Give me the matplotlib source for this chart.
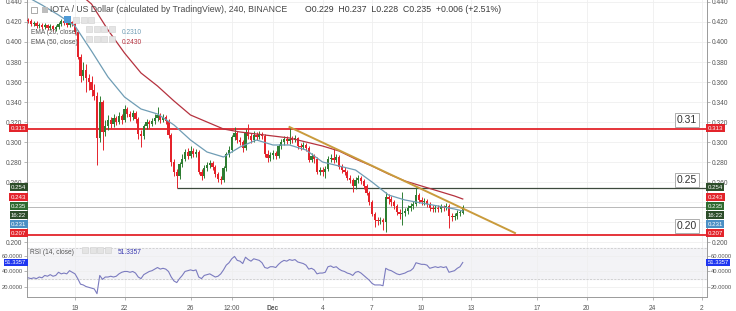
import matplotlib
matplotlib.use("Agg")
import matplotlib.pyplot as plt
import matplotlib.dates as mdates
from matplotlib.patches import Rectangle
import numpy as np
import pandas as pd

plt.rcParams['font.family'] = ['Liberation Sans', 'DejaVu Sans']

# 4h candles IOTA/USD, Nov 16 04:00 -> Dec 12 12:00 (open = previous close)
first_open = 0.422
close = [
    0.421, 0.418, 0.419, 0.416, 0.417,
    0.415, 0.417, 0.414, 0.416, 0.413, 0.415,
    0.418, 0.421, 0.419, 0.417, 0.420, 0.418,
    0.410, 0.385, 0.366, 0.372, 0.364, 0.360,
    0.352, 0.346, 0.304, 0.340, 0.310, 0.316,
    0.322, 0.318, 0.324, 0.320, 0.326, 0.322,
    0.333, 0.328, 0.325, 0.329, 0.323, 0.308,
    0.306, 0.316, 0.320, 0.318, 0.321, 0.324,
    0.327, 0.322, 0.325, 0.321, 0.307, 0.280,
    0.270, 0.266, 0.278, 0.283, 0.290, 0.286,
    0.291, 0.288, 0.290, 0.270, 0.266, 0.274,
    0.277, 0.279, 0.275, 0.268, 0.263, 0.262,
    0.274, 0.288, 0.292, 0.305, 0.309, 0.302,
    0.300, 0.294, 0.310, 0.306, 0.302, 0.307,
    0.305, 0.308, 0.306, 0.288, 0.284, 0.287,
    0.289, 0.286, 0.296, 0.300, 0.303, 0.301,
    0.303, 0.302, 0.304, 0.296, 0.295, 0.297,
    0.294, 0.282, 0.286, 0.283, 0.270, 0.272,
    0.270, 0.273, 0.283, 0.284, 0.282, 0.285,
    0.275, 0.272, 0.270, 0.264, 0.262, 0.256,
    0.262, 0.264, 0.261, 0.256, 0.249, 0.240,
    0.228, 0.222, 0.221, 0.222, 0.220, 0.245,
    0.243, 0.240, 0.236, 0.230, 0.228, 0.229,
    0.231, 0.234, 0.236, 0.238, 0.247, 0.242,
    0.240, 0.241, 0.238, 0.234, 0.233, 0.234,
    0.233, 0.235, 0.234, 0.236, 0.226, 0.225,
    0.226, 0.229, 0.229, 0.235,
]
high = [
    0.424, 0.423, 0.421, 0.421, 0.419,
    0.419, 0.419, 0.418, 0.418, 0.417, 0.417,
    0.420, 0.423, 0.422, 0.420, 0.422, 0.421,
    0.420, 0.412, 0.388, 0.380, 0.378, 0.368,
    0.366, 0.358, 0.350, 0.346, 0.342, 0.322,
    0.327, 0.325, 0.328, 0.326, 0.330, 0.328,
    0.337, 0.335, 0.331, 0.332, 0.331, 0.325,
    0.312, 0.318, 0.323, 0.322, 0.324, 0.328,
    0.335, 0.329, 0.328, 0.327, 0.323, 0.309,
    0.283, 0.273, 0.280, 0.288, 0.293, 0.294,
    0.296, 0.294, 0.293, 0.292, 0.273, 0.277,
    0.280, 0.282, 0.281, 0.277, 0.270, 0.266,
    0.276, 0.290, 0.296, 0.307, 0.315, 0.311,
    0.305, 0.302, 0.313, 0.318, 0.309, 0.311,
    0.310, 0.311, 0.310, 0.308, 0.292, 0.290,
    0.292, 0.291, 0.298, 0.303, 0.306, 0.306,
    0.315, 0.306, 0.307, 0.305, 0.299, 0.300,
    0.299, 0.296, 0.289, 0.288, 0.285, 0.275,
    0.275, 0.276, 0.286, 0.288, 0.294, 0.288,
    0.287, 0.278, 0.275, 0.272, 0.267, 0.264,
    0.265, 0.267, 0.266, 0.263, 0.258, 0.251,
    0.242, 0.230, 0.225, 0.225, 0.224, 0.250,
    0.248, 0.246, 0.242, 0.238, 0.233, 0.250,
    0.234, 0.237, 0.239, 0.241, 0.255, 0.249,
    0.245, 0.244, 0.243, 0.240, 0.237, 0.237,
    0.237, 0.238, 0.237, 0.239, 0.238, 0.229,
    0.229, 0.232, 0.232, 0.237,
]
low = [
    0.419, 0.416, 0.416, 0.414, 0.414,
    0.413, 0.413, 0.412, 0.412, 0.411, 0.411,
    0.413, 0.416, 0.417, 0.415, 0.415, 0.416,
    0.408, 0.383, 0.360, 0.362, 0.350, 0.352,
    0.346, 0.342, 0.277, 0.300, 0.292, 0.306,
    0.312, 0.314, 0.315, 0.317, 0.318, 0.318,
    0.320, 0.325, 0.321, 0.322, 0.319, 0.303,
    0.295, 0.303, 0.313, 0.314, 0.316, 0.318,
    0.321, 0.319, 0.320, 0.318, 0.304, 0.276,
    0.266, 0.254, 0.263, 0.275, 0.281, 0.283,
    0.284, 0.285, 0.285, 0.268, 0.262, 0.264,
    0.271, 0.274, 0.272, 0.265, 0.260, 0.258,
    0.260, 0.271, 0.285, 0.290, 0.302, 0.299,
    0.297, 0.290, 0.292, 0.303, 0.299, 0.300,
    0.302, 0.303, 0.303, 0.285, 0.280, 0.281,
    0.283, 0.283, 0.284, 0.293, 0.297, 0.298,
    0.298, 0.299, 0.300, 0.293, 0.292, 0.293,
    0.291, 0.280, 0.280, 0.279, 0.268, 0.267,
    0.266, 0.264, 0.271, 0.280, 0.279, 0.280,
    0.273, 0.269, 0.267, 0.262, 0.259, 0.250,
    0.253, 0.259, 0.258, 0.253, 0.247, 0.237,
    0.226, 0.215, 0.217, 0.218, 0.212, 0.210,
    0.238, 0.236, 0.233, 0.227, 0.223, 0.217,
    0.226, 0.228, 0.231, 0.233, 0.236, 0.239,
    0.237, 0.237, 0.235, 0.231, 0.230, 0.230,
    0.230, 0.230, 0.231, 0.232, 0.214, 0.221,
    0.222, 0.223, 0.226, 0.228,
]
rsi = [
    32, 31, 32, 31, 33,
    32, 35, 34, 36, 34, 35,
    39, 37, 38, 37, 41, 39,
    37, 31, 24, 23, 21, 20,
    19, 18, 12, 35, 30, 33,
    33, 34, 33, 34, 37, 39,
    40, 40, 39, 40, 38, 33,
    31, 36, 38, 40, 41, 43,
    45, 43, 44, 43, 40, 33,
    28, 26, 31, 35, 40, 41,
    42, 41, 42, 33, 31, 35,
    36, 37, 35, 33, 34, 37,
    42, 48, 51, 56, 59, 54,
    53, 50, 58, 55, 53, 56,
    55, 54, 51, 45, 44, 46,
    46, 45, 49, 52, 54, 53,
    55, 54, 55, 52, 51, 50,
    48, 43, 44, 42, 37, 38,
    38, 39, 46, 47, 45, 46,
    43, 41, 40, 38, 37, 35,
    39, 40, 38, 35, 32, 29,
    25, 23, 23, 23, 22, 44,
    42, 41, 39, 37, 36, 37,
    38, 40, 41, 44, 51, 50,
    49, 49, 48, 44, 45, 46,
    45, 46, 45, 46, 39, 40,
    41, 44, 46, 51.3357,
]
# EMA values read at each day 00:00 (Nov 16 .. Dec 12) plus the last candle
ema20 = [0.446, 0.437, 0.427, 0.416, 0.391, 0.365, 0.345, 0.333, 0.328, 0.317,
         0.302, 0.290, 0.285, 0.295, 0.302, 0.297, 0.297, 0.292, 0.280, 0.276,
         0.272, 0.260, 0.247, 0.242, 0.239, 0.236, 0.233, 0.231]
ema50 = [0.490, 0.478, 0.466, 0.452, 0.438, 0.412, 0.389, 0.369, 0.356, 0.341,
         0.327, 0.320, 0.313, 0.310, 0.308, 0.306, 0.304, 0.300, 0.296, 0.291,
         0.283, 0.276, 0.268, 0.261, 0.256, 0.251, 0.246, 0.243]

# drawn levels
resist = 0.313
support = 0.207
mid_level = 0.254
mid_start = "2018-11-25 04:00"
trend_t = ["2018-12-02 00:00", "2018-12-15 16:00"]
trend_p = [0.315, 0.209]
level_labels = ["0.31", "0.25", "0.20"]
level_y = [0.322, 0.262, 0.216]

tick_dates = ["2018-11-19 00:00", "2018-11-22 00:00", "2018-11-26 00:00", "2018-11-28 12:00",
              "2018-12-01 00:00", "2018-12-04 00:00", "2018-12-07 00:00", "2018-12-10 00:00",
              "2018-12-13 00:00", "2018-12-17 00:00", "2018-12-20 00:00", "2018-12-24 00:00",
              "2018-12-27 00:00"]
tick_text = ["19", "22", "26", "12:00", "Dec", "4", "7", "10", "13", "17", "20", "24", "2"]
price_ticks = [0.200, 0.220, 0.240, 0.260, 0.280, 0.300, 0.320, 0.340, 0.360,
               0.380, 0.400, 0.420, 0.440]
# 0.220 and 0.240 sit under the coloured scale labels
price_tick_text = ["0.200", "", "", "0.260", "0.280", "0.300", "0.320", "0.340", "0.360",
                   "0.380", "0.400", "0.420", "0.440"]

UP = "#2e7d32"
DOWN = "#e5232b"
RED = "#e3242b"
EMA20_C = "#6f9db5"
EMA50_C = "#b5323f"

times = pd.date_range("2018-11-16 04:00", periods=len(close), freq="4h")
t = mdates.date2num(times)
ema_t = mdates.date2num(list(pd.date_range("2018-11-16", "2018-12-12", freq="D")) + [times[-1]])
c = np.array(close)
o = np.concatenate([[first_open], c[:-1]])
h = np.array(high)
l = np.array(low)
up = c >= o

W, H = 736, 311
fig = plt.figure(figsize=(W / 100, H / 100), dpi=100)
ax = fig.add_axes([27 / W, 1 - 245 / H, 680 / W, 245 / H])
ax2 = fig.add_axes([27 / W, 1 - 297 / H, 680 / W, 52 / H], sharex=ax)

x0 = mdates.date2num(pd.Timestamp("2018-11-16 00:00")) + (27 - 25.5) / 16.5
x1 = x0 + 680 / 16.5
ax.set_xlim(x0, x1)
ax.set_ylim(0.197, 0.442)
ax2.set_ylim(7.8, 73.4)

tick_pos = mdates.date2num(pd.to_datetime(tick_dates))
for a in (ax, ax2):
    a.set_xticks(tick_pos)
    a.grid(True, color="#efefef", lw=0.6)
    a.set_axisbelow(True)
    for s in a.spines.values():
        s.set_color("#9a9a9a")
        s.set_linewidth(0.7)
ax.spines["top"].set_visible(False)
ax.spines["bottom"].set_color("#d8d8d8")
ax2.spines["top"].set_visible(False)

ax.set_yticks(price_ticks)
ax.set_yticklabels(price_tick_text)
ax.tick_params(axis="y", labelsize=4.8, labelcolor="#555555", length=2, width=0.5,
               color="#9a9a9a", left=True, right=True, labelleft=True, labelright=True, pad=1.5)
ax.tick_params(axis="x", labelbottom=False, length=0)

ax2.set_yticks([20, 40, 60])
ax2.set_yticklabels(["20.0000", "40.0000", "60.0000"])
ax2.tick_params(axis="y", labelsize=4.2, labelcolor="#555555", length=2, width=0.5,
                color="#9a9a9a", left=True, right=True, labelleft=True, labelright=True, pad=1)
ax2.set_xticklabels(tick_text)
ax2.tick_params(axis="x", labelsize=4.8, labelcolor="#555555", length=2, width=0.5,
                color="#9a9a9a", pad=4)
for lab in ax2.get_xticklabels():
    if lab.get_text() == "Dec":
        lab.set_fontweight("bold")

# candles
cw = 0.145
body_lo = np.minimum(o, c)
body_h = np.maximum(np.abs(c - o), 0.0007)
cols = np.where(up, UP, DOWN)
ax.vlines(t, l, h, colors=cols, lw=0.7, zorder=3)
ax.bar(t, body_h, bottom=body_lo, width=cw, color=cols, lw=0, zorder=4)

# moving averages
ax.plot(ema_t, ema20, color=EMA20_C, lw=0.9, zorder=5)
ax.plot(ema_t, ema50, color=EMA50_C, lw=0.9, zorder=5)

# levels and trendline
ax.axhline(resist, color=RED, lw=1.3, zorder=2)
ax.axhline(support, color=RED, lw=1.3, zorder=2)
ax.axhline(close[-1], color="#b8b8b8", lw=0.7, zorder=2)
ax.hlines(mid_level, mdates.date2num(pd.Timestamp(mid_start)), x1, color="#3d4a3d", lw=0.9, zorder=2)
ax.plot(mdates.date2num(pd.to_datetime(trend_t)), trend_p, color="#c99b3c", lw=1.4, zorder=6)

for txt, yv in zip(level_labels, level_y):
    ax.text(x0 + 670 / 16.5, yv, txt, ha="right", va="center", fontsize=7.5, color="#333333",
            bbox=dict(boxstyle="square,pad=0.2", fc="white", ec="#a0a0a0", lw=0.6), zorder=8)

# price scale labels, both sides
scale_labels = [("0.313", 0.314, RED), ("0.254", 0.255, "#2d4d2a"), ("0.243", 0.245, RED),
                ("0.235", 0.236, "#2f6a2f"), ("16:22", 0.227, "#2d4d2a"),
                ("0.231", 0.218, "#4b8fc4"), ("0.207", 0.209, RED)]
for txt, yv, col in scale_labels:
    for xa, ha in ((-0.001, "right"), (1.001, "left")):
        ax.text(xa, yv, txt, transform=ax.get_yaxis_transform(), ha=ha, va="center",
                fontsize=4.4, color="white", clip_on=False, zorder=10,
                bbox=dict(boxstyle="square,pad=0.22", fc=col, ec="none"))

# RSI panel
ax2.axhspan(30, 70, color="#f3f3f6", zorder=0)
ax2.axhline(30, color="#c4c4c4", lw=0.5, ls=(0, (3, 2)))
ax2.axhline(70, color="#c4c4c4", lw=0.5, ls=(0, (3, 2)))
ax2.plot(t, rsi, color="#7b7bbf", lw=0.8, zorder=4)
for xa, ha in ((-0.001, "right"), (1.001, "left")):
    ax2.text(xa, rsi[-1], "51.3357", transform=ax2.get_yaxis_transform(), ha=ha, va="center",
             fontsize=4.2, color="white", clip_on=False, zorder=10,
             bbox=dict(boxstyle="square,pad=0.22", fc="#1f36f0", ec="none"))


def px(x, y):
    return x / W, 1 - y / H


def buttons(x, y, n=4):
    for i in range(n):
        fig.patches.append(Rectangle(px(x + i * 7.5, y + 3), 6 / W, 6 / H, transform=fig.transFigure,
                                     fc="#e4e4e4", ec="#cfcfcf", lw=0.4))


# header / legend
fig.patches.append(Rectangle(px(31, 13), 6 / W, 6 / H, transform=fig.transFigure,
                             fc="white", ec="#888888", lw=0.5))
fig.patches.append(Rectangle(px(42, 13), 6 / W, 6 / H, transform=fig.transFigure,
                             fc="#bdbdbd", ec="none"))
fig.text(*px(50, 10), "IOTA / US Dollar (calculated by TradingView), 240, BINANCE",
         fontsize=6.3, color="#4a4a4a", va="center")
fig.text(*px(305, 10), "O0.229  H0.237  L0.228  C0.235  +0.006 (+2.51%)",
         fontsize=6.3, color="#3a3a3a", va="center")
fig.patches.append(Rectangle(px(64, 23), 7 / W, 7 / H, transform=fig.transFigure,
                             fc="#4f9ad6", ec="none"))
buttons(73, 20, 3)
fig.text(*px(31, 32), "EMA (20, close)", fontsize=4.8, color="#555555", va="center")
buttons(86, 29)
fig.text(*px(122, 32), "0.2310", fontsize=4.8, color=EMA20_C, va="center")
fig.text(*px(31, 42), "EMA (50, close)", fontsize=4.8, color="#555555", va="center")
buttons(86, 39)
fig.text(*px(122, 42), "0.2430", fontsize=4.8, color=EMA50_C, va="center")
fig.text(*px(30, 253), "RSI (14, close)", fontsize=4.8, color="#555555", va="center")
buttons(82, 250)
fig.text(*px(118, 253), "51.3357", fontsize=4.8, color="#3a3ab0", va="center")

fig.savefig("out.png", dpi=100)
